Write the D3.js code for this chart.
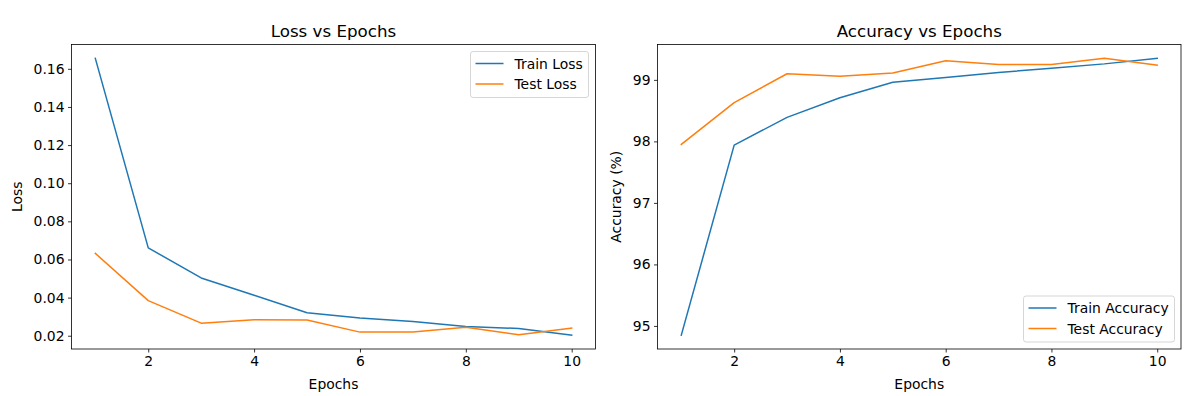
<!DOCTYPE html>
<html>
<head>
<meta charset="utf-8">
<script src="https://cdn.jsdelivr.net/npm/d3@7"></script>
<style>
  body { margin: 0; background: #fff; }
  svg { font-family: "DejaVu Sans", sans-serif; }
</style>
</head>
<body>
<div id="chart"></div>
<script>
const epochs = [1, 2, 3, 4, 5, 6, 7, 8, 9, 10];
const trainLoss = [0.1655, 0.0661, 0.0503, 0.0412, 0.0321, 0.0293, 0.0275, 0.0249, 0.0238, 0.0203];
const testLoss = [0.0632, 0.0384, 0.0266, 0.0284, 0.0283, 0.0219, 0.0219, 0.0245, 0.0205, 0.0240];
const trainAcc = [94.85, 97.94, 98.39, 98.71, 98.96, 99.04, 99.12, 99.19, 99.26, 99.35];
const testAcc = [97.95, 98.63, 99.10, 99.06, 99.11, 99.31, 99.25, 99.25, 99.35, 99.24];
const xTicks = [2, 4, 6, 8, 10];
const lossTicks = [0.02, 0.04, 0.06, 0.08, 0.10, 0.12, 0.14, 0.16];
const accTicks = [95, 96, 97, 98, 99];

const blue = "#1f77b4", orange = "#ff7f0e";
const W = 1195, H = 396;

const svg = d3.select("#chart").append("svg")
  .attr("width", W).attr("height", H);

// pad the extent by 5% like matplotlib's auto margins
function padded(values) {
  const [lo, hi] = d3.extent(values);
  const m = (hi - lo) * 0.05;
  return [lo - m, hi + m];
}

function panel(opts) {
  const { left, right, top, bottom, title, ylabel, yTicks, yFormat, series, legendPos } = opts;
  const g = svg.append("g");

  const x = d3.scaleLinear().domain(padded(epochs)).range([left, right]);
  const y = d3.scaleLinear().domain(padded(series.flatMap(s => s.values))).range([bottom, top]);

  const line = d3.line()
    .x((d, i) => x(epochs[i]))
    .y(d => y(d));

  series.forEach(s => {
    g.append("path")
      .attr("d", line(s.values))
      .attr("fill", "none")
      .attr("stroke", s.color)
      .attr("stroke-width", 1.5)
      .attr("stroke-linejoin", "round")
      .attr("stroke-linecap", "square");
  });

  const xAxis = d3.axisBottom(x).tickValues(xTicks).tickSize(3.5).tickPadding(3.5).tickFormat(d3.format("d"));
  const yAxis = d3.axisLeft(y).tickValues(yTicks).tickSize(3.5).tickPadding(3.5).tickFormat(yFormat);

  const gx = g.append("g").attr("transform", `translate(0,${bottom})`).call(xAxis);
  const gy = g.append("g").attr("transform", `translate(${left},0)`).call(yAxis);
  [gx, gy].forEach(a => {
    a.select(".domain").remove();
    a.selectAll("line").attr("stroke", "#000").attr("stroke-width", 0.8);
    a.selectAll("text").attr("fill", "#000").style("font-size", "13.9px")
      .style("font-family", "DejaVu Sans, sans-serif");
  });

  g.append("rect")
    .attr("x", left).attr("y", top)
    .attr("width", right - left).attr("height", bottom - top)
    .attr("fill", "none").attr("stroke", "#000").attr("stroke-width", 0.8);

  g.append("text")
    .attr("x", (left + right) / 2).attr("y", top - 8)
    .attr("text-anchor", "middle")
    .style("font-size", "16.7px")
    .text(title);

  g.append("text")
    .attr("x", (left + right) / 2).attr("y", bottom + 40)
    .attr("text-anchor", "middle")
    .style("font-size", "13.9px")
    .text("Epochs");

  g.append("text")
    .attr("transform", `translate(${left - opts.ylabelOffset},${(top + bottom) / 2}) rotate(-90)`)
    .attr("text-anchor", "middle")
    .style("font-size", "13.9px")
    .text(ylabel);

  // legend
  const lg = g.append("g").attr("transform", `translate(${legendPos[0]},${legendPos[1]})`);
  lg.append("rect")
    .attr("width", opts.legendW).attr("height", 46)
    .attr("rx", 2.5)
    .attr("fill", "#fff").attr("fill-opacity", 0.8)
    .attr("stroke", "#ccc").attr("stroke-width", 0.8);
  series.forEach((s, i) => {
    const yy = 12 + i * 20.5;
    lg.append("line")
      .attr("x1", 5).attr("x2", 33).attr("y1", yy).attr("y2", yy)
      .attr("stroke", s.color).attr("stroke-width", 1.5);
    lg.append("text")
      .attr("x", 44).attr("y", yy + 5)
      .style("font-size", "13.9px")
      .text(s.name);
  });
}

panel({
  left: 71.5, right: 595.5, top: 44.5, bottom: 349,
  title: "Loss vs Epochs", ylabel: "Loss", ylabelOffset: 50,
  yTicks: lossTicks, yFormat: d3.format(".2f"),
  series: [
    { name: "Train Loss", values: trainLoss, color: blue },
    { name: "Test Loss", values: testLoss, color: orange }
  ],
  legendPos: [470.5, 51.5], legendW: 118
});

panel({
  left: 657.5, right: 1181, top: 44.5, bottom: 349,
  title: "Accuracy vs Epochs", ylabel: "Accuracy (%)", ylabelOffset: 37,
  yTicks: accTicks, yFormat: d3.format("d"),
  series: [
    { name: "Train Accuracy", values: trainAcc, color: blue },
    { name: "Test Accuracy", values: testAcc, color: orange }
  ],
  legendPos: [1023.5, 296], legendW: 151
});
</script>
</body>
</html>
